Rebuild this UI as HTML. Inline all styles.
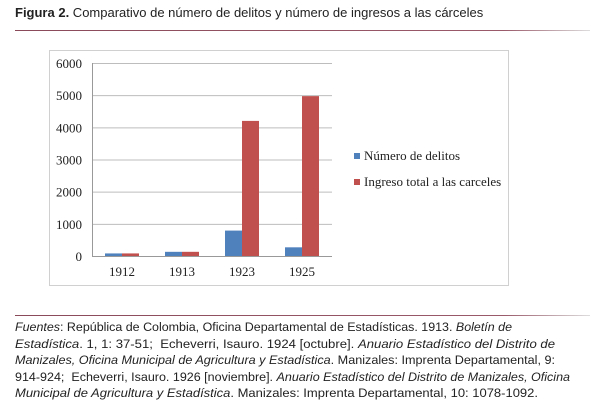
<!DOCTYPE html>
<html><head><meta charset="utf-8"><style>
body{margin:0;width:600px;height:402px;background:#fff;position:relative;overflow:hidden;font-family:"Liberation Sans",sans-serif}
.t{position:absolute;left:15px;top:5px;font-size:13px;color:#222}
.rule{position:absolute;left:15px;width:575px;height:1px;background:linear-gradient(90deg,#8a4a5a,#9a5a6a 85%,#ddd)}
.f{position:absolute;left:15px;top:319px;width:585px;font-size:12.4px;line-height:16.6px;color:#222}
.f div{white-space:nowrap;transform-origin:0 0;display:block;width:max-content}
</style></head><body>
<div class="t"><b>Figura 2.</b> Comparativo de número de delitos y número de ingresos a las cárceles</div>
<div class="rule" style="top:30px"></div>
<svg width="600" height="402" style="position:absolute;left:0;top:0" id="c">
<rect x="49.5" y="50.5" width="459" height="235" fill="none" stroke="#d0d0d0"/>
</svg>
<div class="rule" style="top:315px"></div>
<div class="f">
<div data-w="497"><i>Fuentes</i>: República de Colombia, Oficina Departamental de Estadísticas. 1913. <i>Boletín de</i></div>
<div data-w="540"><i>Estadística</i>. 1, 1: 37-51;&nbsp; Echeverri, Isauro. 1924 [octubre]. <i>Anuario Estadístico del Distrito de</i></div>
<div data-w="540"><i>Manizales, Oficina Municipal de Agricultura y Estadística</i>. Manizales: Imprenta Departamental, 9:</div>
<div data-w="555">914-924;&nbsp; Echeverri, Isauro. 1926 [noviembre]. <i>Anuario Estadístico del Distrito de Manizales, Oficina</i></div>
<div data-w="523"><i>Municipal de Agricultura y Estadística</i>. Manizales: Imprenta Departamental, 10: 1078-1092.</div>
</div>
<script>
document.querySelectorAll('.f div').forEach(d=>{const w=d.getBoundingClientRect().width;d.style.transform='scaleX('+(+d.dataset.w/w)+')';});
const categories=["1912","1913","1923","1925"];
const delitos=[80,130,790,270];
const ingresos=[80,130,4200,4970];
const ticks=[0,1000,2000,3000,4000,5000,6000];
const seriesNames=["Número de delitos","Ingreso total a las carceles"];
const colors=["#4f81bd","#c0504d"];
const svg=document.getElementById('c');const NS='http://www.w3.org/2000/svg';
const x0=92,x1=332,y0=256,y1=63,ymax=6000;
const y=v=>y0-(v/ymax)*(y0-y1);
const band=(x1-x0)/categories.length,bw=17;
function mk(t,a){const e=document.createElementNS(NS,t);for(const k in a)e.setAttribute(k,a[k]);svg.appendChild(e);return e;}
ticks.forEach(v=>{
 const l=mk('line',{x1:x0,x2:x1,y1:y(v)+.5,y2:y(v)+.5,stroke:v?'#bdbdbd':'#999'});
 
 
 const t=mk('text',{x:x0-10,y:y(v)+5,'text-anchor':'end','font-family':'Liberation Serif, serif','font-size':13,fill:'#222'});
 t.textContent=v;
 
 
});
mk('line',{x1:x0+.5,x2:x0+.5,y1:y1,y2:y0,stroke:'#999'});
categories.forEach((c,i)=>{
 const cx=x0+band*(i+.5);
 [delitos,ingresos].forEach((s,j)=>{
  const r=mk('rect',{x:cx-bw+j*bw,y:y(s[i]),width:bw,height:y0-y(s[i]),fill:colors[j]});
  
  
 });
 const t=mk('text',{x:cx,y:y0+20,'text-anchor':'middle','font-family':'Liberation Serif, serif','font-size':13,fill:'#222'});
 t.textContent=c;
 
 
});
seriesNames.forEach((n,j)=>{
 const ly=153+j*26;
 const r=mk('rect',{x:354,y:ly,width:6,height:6,fill:colors[j]});
 
 
 const t=mk('text',{x:364,y:ly+7,'font-family':'Liberation Serif, serif','font-size':13,fill:'#222'});
 t.textContent=n;
 
 
});
</script>
</body></html>
